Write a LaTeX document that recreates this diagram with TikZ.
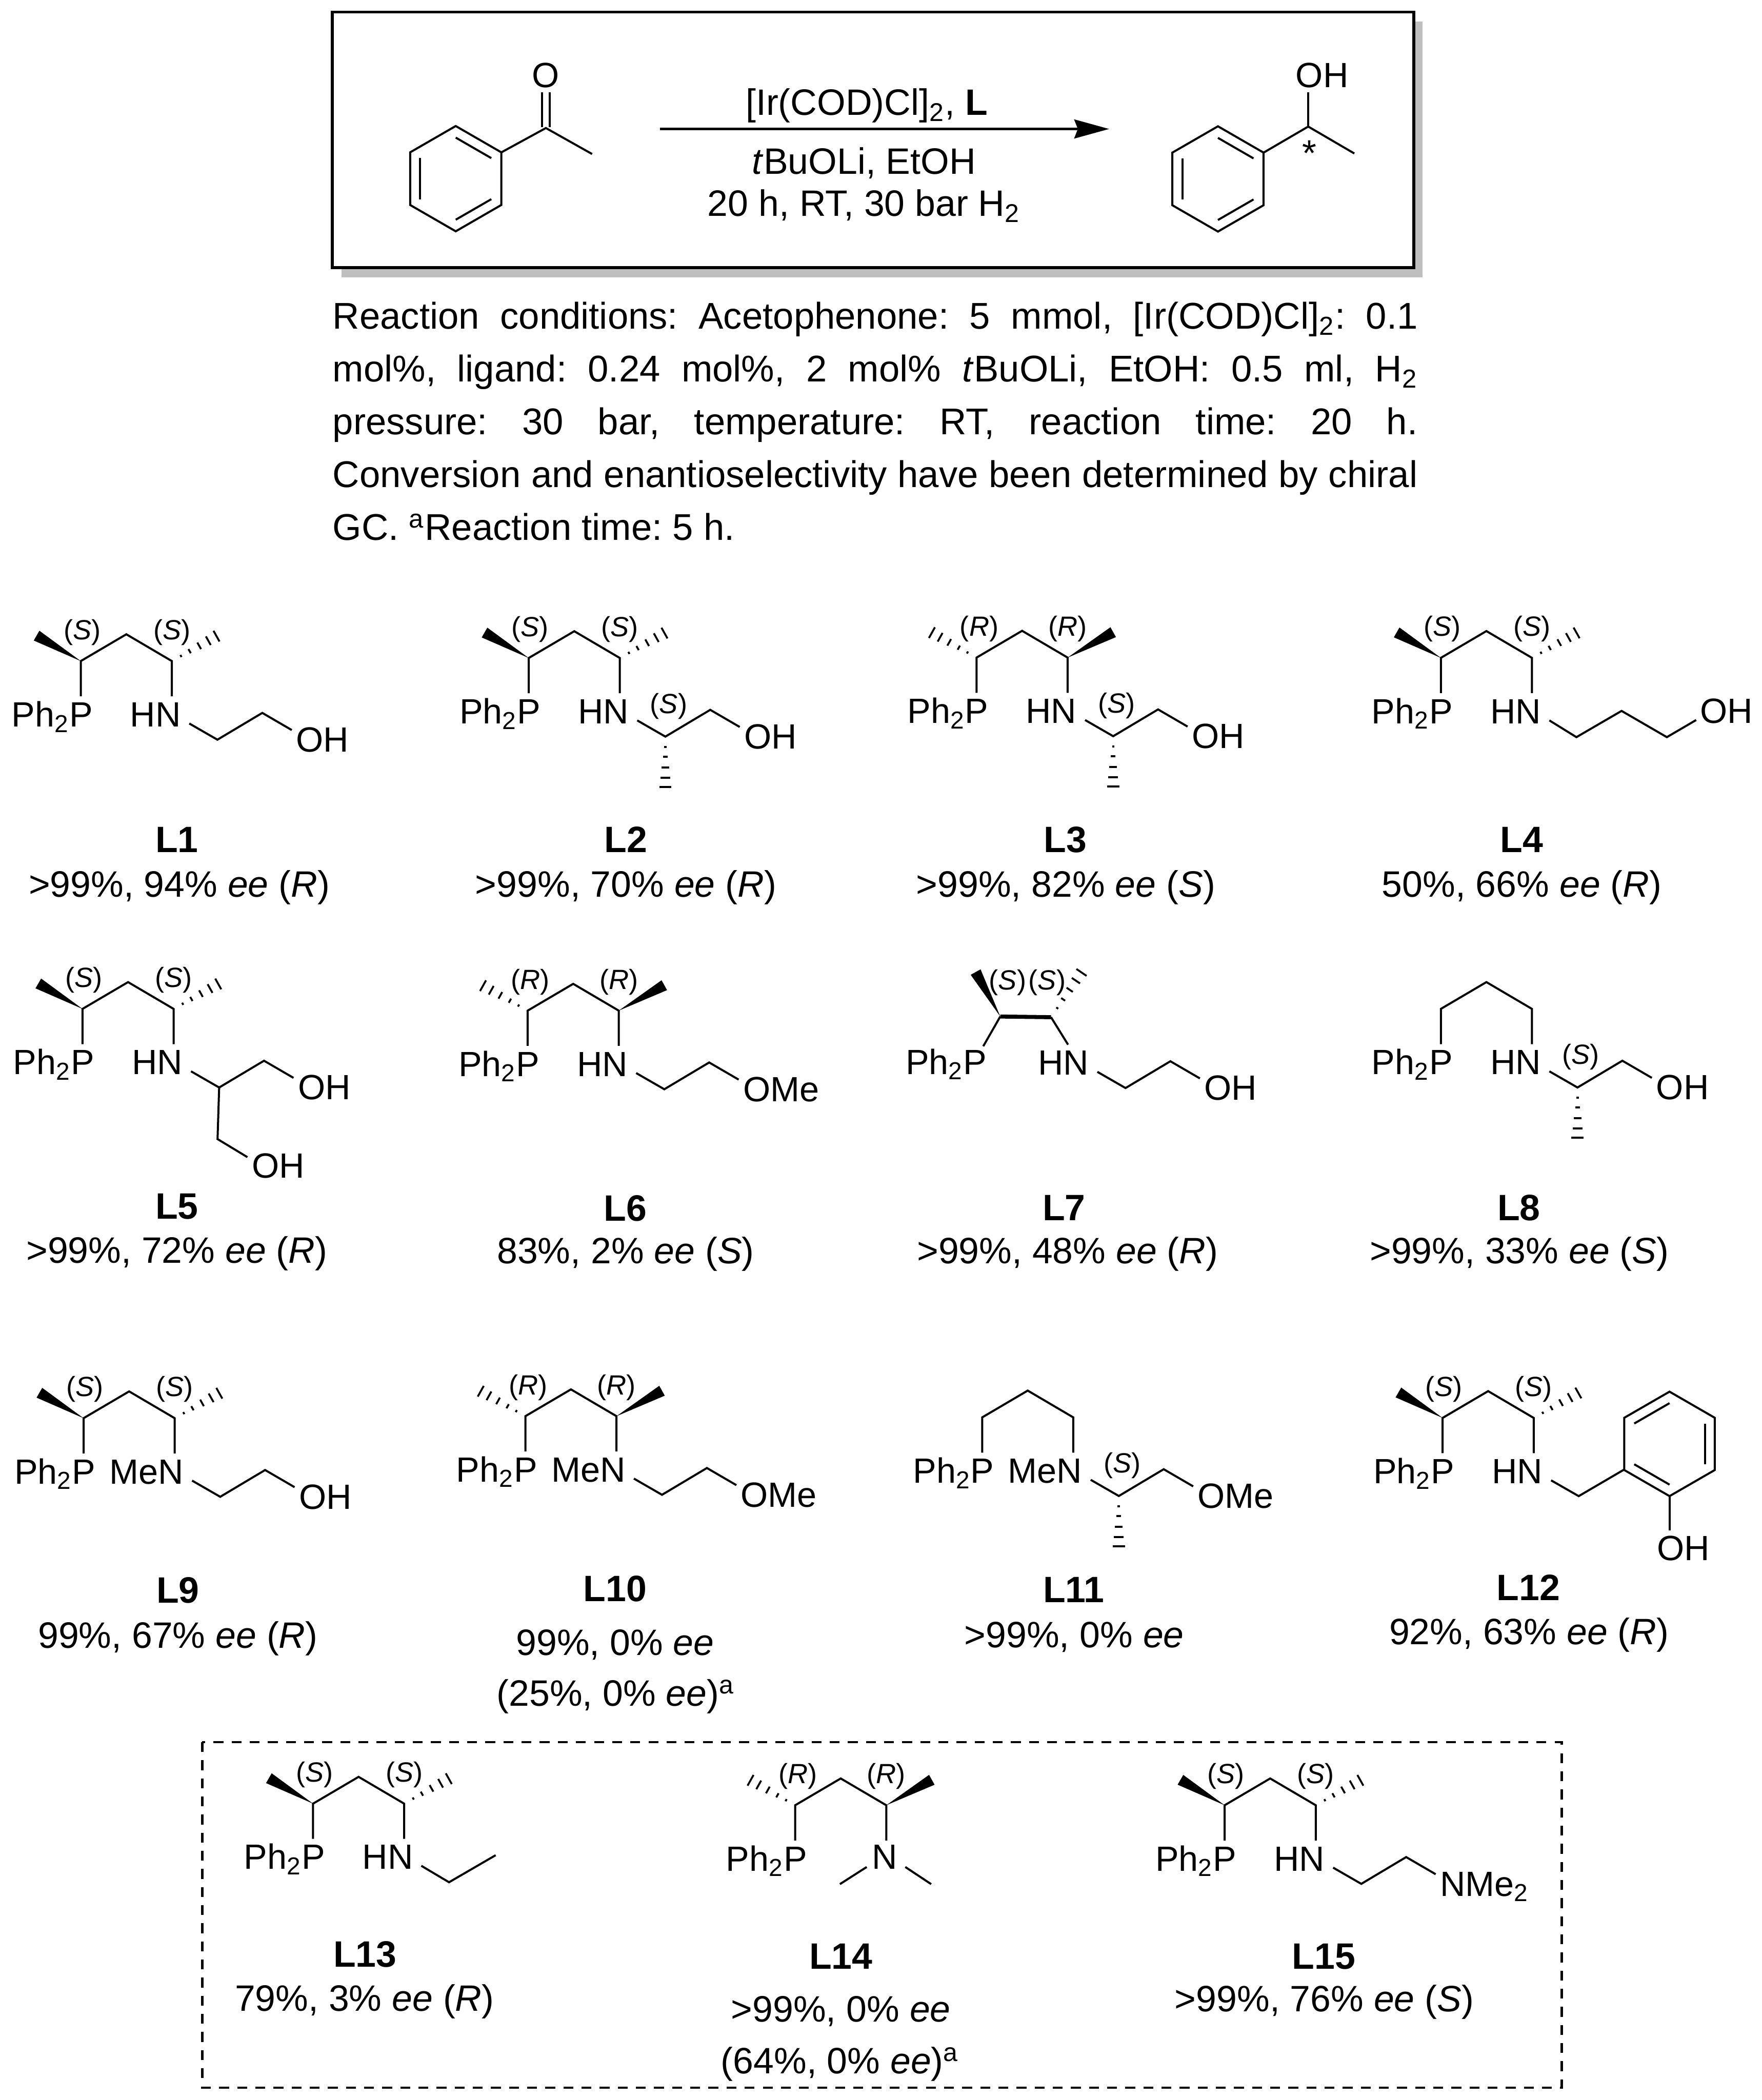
\documentclass[tikz,border=0pt]{standalone}
\usepackage{fontspec}
\setmainfont{Liberation Sans}
\usetikzlibrary{calc,arrows.meta}
\definecolor{shadowgray}{HTML}{BFBFBF}
\tikzset{
    bond/.style={line width=.87pt},
    hashline/.style={line width=.8pt},
    heavybond/.style={line width=1.7pt},
    atom/.style={inner sep=0pt, anchor=base west, font=\fontsize{14.9}{18}\selectfont},
    atomend/.style={inner sep=0pt, anchor=base east, font=\fontsize{14.9}{18}\selectfont},
    atommid/.style={inner sep=0pt, anchor=base, font=\fontsize{14.9}{18}\selectfont},
    stereo/.style={inner sep=0pt, font=\fontsize{11.8}{13}\selectfont},
    tag/.style={inner sep=0pt, anchor=base, font=\fontsize{15.6}{18}\selectfont\bfseries},
    yieldtext/.style={inner sep=0pt, anchor=base},
}
\newcommand{\hashbond}[2]{
    \foreach \t/\w in {.2/.5pt,.39/1pt,.6/1.6pt,.8/2.1pt,.98/2.6pt} {
        \coordinate (hs) at ($(#1)!\t!(#2)$);
        \draw[hashline] ($(hs)!\w!90:(#2)$) -- ($(hs)!\w!-90:(#2)$);
    }
}
\newcommand{\wedgebond}[2]{
    \fill ($(#2)!2.4pt!90:(#1)$) -- (#1) -- ($(#2)!2.4pt!-90:(#1)$) -- cycle;
}
\newcommand{\benzene}[4]{
    \begin{scope}[shift={(#1,#2)}]
        \draw[bond] (30:#3) -- (90:#3) -- (150:#3) -- (210:#3) -- (270:#3) -- (330:#3) -- cycle;
        \foreach \a in {#4} {
            \draw[bond] ({\a}:{.78*#3}) -- ({\a+60}:{.78*#3});
        }
    \end{scope}
}
\newcommand{\backbone}{
    \coordinate (cp) at (0,0);
    \coordinate (ch) at (34,-20);
    \coordinate (cn) at (68,0);
    \coordinate (pe) at (0,26.3);
    \coordinate (ne) at (68,26.3);
    \node (pl) [atom] at (-52,49) {Ph\textsubscript{2}P};
    \draw[bond] (pe) -- (cp) -- (ch) -- (cn) -- (ne);
}
\newcommand{\markSS}{
    \coordinate (wl) at (-33,-19);
    \coordinate (hr) at (102,-19);
    \wedgebond{cp}{wl}
    \hashbond{cn}{hr}
    \node (s1) [stereo] at (1,-21.5) {(\textit{S})};
    \node (s2) [stereo] at (68,-21.5) {(\textit{S})};
}
\newcommand{\markRR}{
    \coordinate (hl) at (-34,-19);
    \coordinate (wr) at (102,-19);
    \wedgebond{cn}{wr}
    \hashbond{cp}{hl}
    \node (s1) [stereo] at (2,-21.5) {(\textit{R})};
    \node (s2) [stereo] at (68,-21.5) {(\textit{R})};
}
\newcommand{\nlabel}[1]{
    \node (nl) [atomend] at (75,49) {#1};
}
\newcommand{\armbond}{
    \coordinate (a1) at (81,46.6);
    \coordinate (a2) at (102,58.7);
    \coordinate (a3) at (135.5,38.7);
    \coordinate (a4) at (157.5,51.5);
    \draw[bond] (a1) -- (a2) -- (a3) -- (a4);
}
\newcommand{\arm}[1]{
    \armbond
    \node (ol) [atom] at (160.5,67.8) {#1};
}
\newcommand{\armhash}{
    \coordinate (a5) at (102,97);
    \hashbond{a2}{a5}
    \node (s3) [stereo] at (104.5,36) {(\textit{S})};
}
\begin{document}
\frenchspacing
\begin{tikzpicture}[x=.02cm, y=-.02cm, font=\fontsize{15.6}{18}\selectfont]
    \useasboundingbox[fill=white] (0,0) rectangle (1315,1568);

    \fill[shadowgray] (255,16) rectangle (1062,207);
    \draw[line width=1.3pt, fill=white] (248,9) rectangle (1055.5,200);

    \benzene{340.2}{133.4}{39.3}{30,150,270}
    \coordinate (kr) at (374.2,113.8);
    \coordinate (kc) at (407.5,95.6);
    \coordinate (kme) at (442,115);
    \coordinate (ka) at (404.7,95);
    \coordinate (kb) at (404.7,69);
    \coordinate (kd) at (410.3,95);
    \coordinate (ke) at (410.3,69);
    \draw[bond] (kr) -- (kc) -- (kme);
    \draw[bond] (ka) -- (kb);
    \draw[bond] (kd) -- (ke);
    \node (ko) [atommid] at (407.5,65.4) {O};

    \benzene{909.2}{133.6}{39.3}{30,150,270}
    \coordinate (pr) at (943.2,114);
    \coordinate (pc) at (976.6,94.5);
    \coordinate (pme) at (1011,114.6);
    \coordinate (po) at (976.6,69);
    \draw[bond] (pr) -- (pc) -- (pme);
    \draw[bond] (pc) -- (po);
    \node (poh) [atom] at (967,65.4) {OH};
    \node (pst) [yieldtext] at (977.5,124) {*};

    \coordinate (ar1) at (492.7,96.3);
    \coordinate (ar2) at (828,96.3);
    \draw[line width=1.2pt, -{Stealth[length=14.8pt,width=8pt,inset=1.5pt]}] (ar1) -- (ar2);
    \node (cond1) [yieldtext] at (647,85.8) {[Ir(COD)Cl]\textsubscript{2}, \textbf{L}};
    \node (cond2) [yieldtext] at (645,130) {\textit{t}BuOLi, EtOH};
    \node (cond3) [yieldtext] at (645,161.4) {20 h, RT, 30 bar H\textsubscript{2}};

    \node (notes) [anchor=north west, inner sep=0pt, text width=461pt, align=justify,
        font=\fontsize{15.8}{22.46}\selectfont] at (248,225) {Reaction conditions: Acetophenone: 5 mmol, [Ir(COD)Cl]\textsubscript{2}: 0.1\linebreak
        mol\%, ligand: 0.24 mol\%, 2 mol\% \textit{t}BuOLi, EtOH: 0.5 ml, H\textsubscript{2}\linebreak
        pressure: 30 bar, temperature: RT, reaction time: 20 h.\linebreak
        Conversion and enantioselectivity have been determined by chiral\linebreak
        GC. \textsuperscript{a}Reaction time: 5 h.};

    \begin{scope}[shift={(60.3,493.6)}, name prefix=l1-]
        \backbone
        \markSS
        \nlabel{HN}
        \arm{OH}
    \end{scope}
    \begin{scope}[shift={(394.7,491.3)}, name prefix=l2-]
        \backbone
        \markSS
        \nlabel{HN}
        \arm{OH}
        \armhash
    \end{scope}
    \begin{scope}[shift={(729,491)}, name prefix=l3-]
        \backbone
        \markRR
        \nlabel{HN}
        \arm{OH}
        \armhash
    \end{scope}
    \begin{scope}[shift={(1075.6,491.2)}, name prefix=l4-]
        \backbone
        \markSS
        \nlabel{HN}
        \coordinate (a1) at (81,46.7);
        \coordinate (a2) at (101.2,59.2);
        \coordinate (a3) at (134.9,39.6);
        \coordinate (a4) at (168.7,59.2);
        \coordinate (a5) at (190.6,46.4);
        \draw[bond] (a1) -- (a2) -- (a3) -- (a4) -- (a5);
        \node (ol) [atom] at (193.1,48.8) {OH};
    \end{scope}

    \begin{scope}[shift={(61.6,753.3)}, name prefix=l5-]
        \backbone
        \markSS
        \nlabel{HN}
        \arm{OH}
        \coordinate (b1) at (100.8,97.2);
        \coordinate (b2) at (123.1,110.7);
        \draw[bond] (a2) -- (b1) -- (b2);
        \node (ol2) [atom] at (126.1,126.3) {OH};
    \end{scope}
    \begin{scope}[shift={(393.9,754.6)}, name prefix=l6-]
        \backbone
        \markRR
        \nlabel{HN}
        \arm{OMe}
    \end{scope}
    \begin{scope}[shift={(746.7,759)}, name prefix=l7-]
        \coordinate (cp) at (0,0);
        \coordinate (cn) at (37.9,.5);
        \coordinate (pe) at (-12.7,22.2);
        \coordinate (ne) at (50.6,21);
        \coordinate (wl) at (-18.4,-33.2);
        \coordinate (hr) at (61.1,-33.6);
        \node (pl) [atom] at (-70.9,43) {Ph\textsubscript{2}P};
        \draw[bond] (pe) -- (cp);
        \draw[bond] (cn) -- (ne);
        \draw[heavybond] (cp) -- (cn);
        \wedgebond{cp}{wl}
        \hashbond{cn}{hr}
        \node (s1) [stereo] at (5.5,-25.4) {(\textit{S})};
        \node (s2) [stereo] at (35,-25.4) {(\textit{S})};
        \begin{scope}[shift={(-8.5,-5.3)}]
            \nlabel{HN}
            \arm{OH}
        \end{scope}
    \end{scope}
    \begin{scope}[shift={(1075.6,753.3)}, name prefix=l8-]
        \backbone
        \nlabel{HN}
        \arm{OH}
        \armhash
    \end{scope}

    \begin{scope}[shift={(62.4,1058.9)}, name prefix=l9-]
        \backbone
        \markSS
        \nlabel{MeN}
        \arm{OH}
    \end{scope}
    \begin{scope}[shift={(392.2,1057.4)}, name prefix=l10-]
        \backbone
        \markRR
        \nlabel{MeN}
        \arm{OMe}
    \end{scope}
    \begin{scope}[shift={(733.2,1058.3)}, name prefix=l11-]
        \backbone
        \nlabel{MeN}
        \arm{OMe}
        \armhash
    \end{scope}
    \begin{scope}[shift={(1076.9,1058.7)}, name prefix=l12-]
        \backbone
        \markSS
        \nlabel{HN}
        \coordinate (a1) at (81,46.6);
        \coordinate (a2) at (101.6,58.4);
        \coordinate (a3) at (135.8,38.4);
        \draw[bond] (a1) -- (a2) -- (a3);
        \benzene{169.4}{19.4}{39}{90,210,330}
        \coordinate (o1) at (169.4,58.4);
        \coordinate (o2) at (169.4,84);
        \draw[bond] (o1) -- (o2);
        \node (ol) [atom] at (159.8,106.4) {OH};
    \end{scope}

    \coordinate (dash1) at (151,1300.8);
    \coordinate (dash2) at (1165.8,1558.8);
    \draw[line width=1pt, dash pattern=on 4.2pt off 3.5pt] (dash1) rectangle (dash2);

    \begin{scope}[shift={(233.7,1346.7)}, name prefix=l13-]
        \backbone
        \markSS
        \nlabel{HN}
        \coordinate (a1) at (80.8,46.4);
        \coordinate (a2) at (101.5,58.7);
        \coordinate (a3) at (136.3,38.5);
        \draw[bond] (a1) -- (a2) -- (a3);
    \end{scope}
    \begin{scope}[shift={(593.6,1347.9)}, name prefix=l14-]
        \backbone
        \markRR
        \node (nl) [atommid] at (66.8,47.8) {N};
        \coordinate (m1) at (53.4,46.1);
        \coordinate (m2) at (33.4,58.9);
        \coordinate (m3) at (82.2,46.1);
        \coordinate (m4) at (101.5,58.9);
        \draw[bond] (m1) -- (m2);
        \draw[bond] (m3) -- (m4);
    \end{scope}
    \begin{scope}[shift={(914.2,1347.9)}, name prefix=l15-]
        \backbone
        \markSS
        \nlabel{HN}
        \arm{NMe\textsubscript{2}}
    \end{scope}

    \foreach \n/\x/\y in {L1/132/636.3, L2/467.2/636.3, L3/795.2/636.3, L4/1135.9/636.3,
        L5/132/910.3, L6/466.8/911.6, L7/794.3/911.2, L8/1133.8/911.2,
        L9/132.8/1197, L10/459.2/1195.7, L11/801.5/1196.6, L12/1141/1195.1,
        L13/272.5/1468.5, L14/627.7/1470, L15/988.2/1470} {
        \node (\n) [tag] at (\x,\y) {\n};
    }
    \node (r1) [yieldtext] at (133.8,669.6) {>99\%, 94\% \textit{ee} (\textit{R})};
    \node (r2) [yieldtext] at (467.2,669.6) {>99\%, 70\% \textit{ee} (\textit{R})};
    \node (r3) [yieldtext] at (795.6,669.6) {>99\%, 82\% \textit{ee} (\textit{S})};
    \node (r4) [yieldtext] at (1136,669.6) {50\%, 66\% \textit{ee} (\textit{R})};
    \node (r5) [yieldtext] at (132,943) {>99\%, 72\% \textit{ee} (\textit{R})};
    \node (r6) [yieldtext] at (467,943.5) {83\%, 2\% \textit{ee} (\textit{S})};
    \node (r7) [yieldtext] at (796.9,943.5) {>99\%, 48\% \textit{ee} (\textit{R})};
    \node (r8) [yieldtext] at (1134.2,943.5) {>99\%, 33\% \textit{ee} (\textit{S})};
    \node (r9) [yieldtext] at (132.8,1230.4) {99\%, 67\% \textit{ee} (\textit{R})};
    \node (r10) [yieldtext] at (459.2,1236) {99\%, 0\% \textit{ee}};
    \node (r10b) [yieldtext] at (459.6,1273.8) {(25\%, 0\% \textit{ee})\textsuperscript{a}};
    \node (r11) [yieldtext] at (801.9,1230.2) {>99\%, 0\% \textit{ee}};
    \node (r12) [yieldtext] at (1141.4,1228) {92\%, 63\% \textit{ee} (\textit{R})};
    \node (r13) [yieldtext] at (272.1,1501.5) {79\%, 3\% \textit{ee} (\textit{R})};
    \node (r14) [yieldtext] at (627.7,1509.7) {>99\%, 0\% \textit{ee}};
    \node (r14b) [yieldtext] at (627,1548.3) {(64\%, 0\% \textit{ee})\textsuperscript{a}};
    \node (r15) [yieldtext] at (988.6,1501.8) {>99\%, 76\% \textit{ee} (\textit{S})};
\end{tikzpicture}
\end{document}
